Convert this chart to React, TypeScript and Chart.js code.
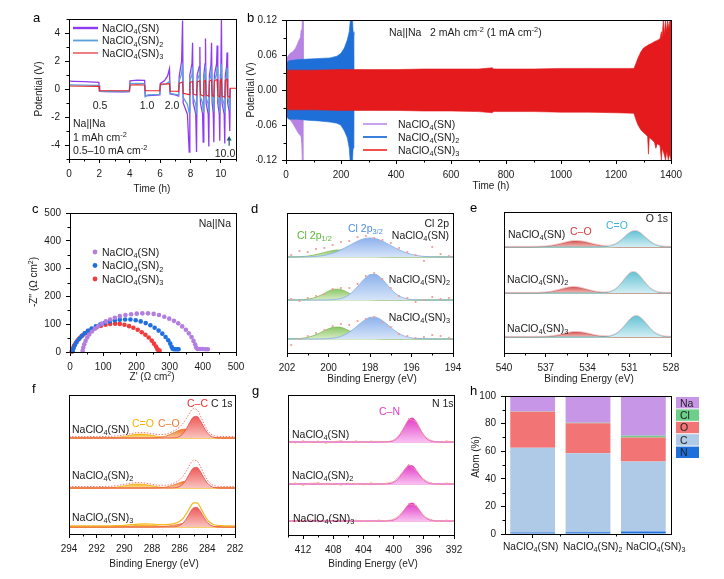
import { useEffect, useRef } from "react";
import { Chart, registerables } from "chart.js";

Chart.register(...registerables);

const PAGE_W = 724;
const PAGE_H = 579;
const FONT = "'Liberation Sans', Arial, Helvetica, sans-serif";
const INK = "#1a1a1a";
Chart.defaults.font.family = FONT;
Chart.defaults.color = INK;

// ---------- (a) rate capability, Na||Na ----------
const A_X_TICKS = [0, 2, 4, 6, 8, 10];
const A_X_MINOR = [1, 3, 5, 7, 9, 11];
const A_Y_TICKS = [-4, -2, 0, 2, 4];
const A_Y_MINOR = [-5, -3, -1, 1, 3, 5];
const A_SN = [
  [0, 0.56], [0.3, 0.55], [1.0, 0.52], [1.97, 0.48], [2.0, -0.17], [2.5, -0.19], [3.5, -0.2], [3.98, -0.19],
  [4.02, 0.58], [4.5, 0.64], [4.98, 0.62], [5.02, -0.48], [5.5, -0.45], [5.98, -0.42], [6.02, 0.4], [6.3, 0.6],
  [6.5, 0.95], [6.62, 1.45], [6.66, -0.35], [7.0, -0.42], [7.22, -0.5], [7.26, 0.9], [7.42, 2.0], [7.48, 4.9],
  [7.52, -1.0], [7.8, -1.8], [7.92, -4.5], [7.96, 1.0], [8.1, 1.8], [8.14, 3.3], [8.18, -1.0], [8.35, -1.8],
  [8.4, -4.5], [8.44, 1.0], [8.58, 1.6], [8.62, 3.0], [8.66, -1.0], [8.8, -1.8], [8.84, -3.8], [8.88, 1.0],
  [8.96, 1.8], [8.99, 3.6], [9.03, -1.0], [9.17, -1.8], [9.21, -4.1], [9.25, 1.0], [9.35, 1.7], [9.39, 3.3],
  [9.43, -1.0], [9.5, -1.7], [9.54, -3.8], [9.58, 1.0], [9.72, 1.8], [9.76, 3.1], [9.8, -1.0], [9.9, -1.8],
  [9.93, -3.7], [9.97, 1.0], [10.01, 2.0], [10.04, 5.0], [10.08, -1.0], [10.22, -1.8], [10.26, -3.9], [10.3, 1.0],
  [10.38, 1.6], [10.41, 2.6], [10.45, -1.0], [10.55, -1.6], [10.59, -3.0], [10.62, 0.05],
];
const A_SN2 = [
  [0, 0.3], [1.0, 0.28], [1.98, 0.26], [2.02, -0.16], [3.0, -0.18], [3.98, -0.18], [4.02, 0.38], [4.5, 0.4],
  [4.98, 0.38], [5.02, -0.55], [5.2, -0.42], [5.98, -0.38], [6.02, 0.3], [6.4, 0.35], [6.62, 0.55], [6.66, -0.32],
  [7.0, -0.38], [7.22, -0.42], [7.26, 0.6], [7.42, 1.1], [7.48, 1.8], [7.52, -0.6], [7.8, -1.1], [7.92, -1.7],
  [7.96, 0.6], [8.1, 1.0], [8.14, 1.6], [8.18, -0.6], [8.35, -1.1], [8.4, -1.8], [8.44, 0.6], [8.58, 1.0],
  [8.62, 1.5], [8.66, -0.6], [8.8, -1.0], [8.84, -1.6], [8.88, 0.6], [8.96, 1.1], [8.99, 1.7], [9.03, -0.6],
  [9.17, -1.1], [9.21, -1.7], [9.25, 0.6], [9.35, 1.0], [9.39, 1.6], [9.43, -0.6], [9.5, -1.0], [9.54, -1.6],
  [9.58, 0.6], [9.72, 1.1], [9.76, 1.6], [9.8, -0.6], [9.9, -1.1], [9.93, -1.7], [9.97, 0.6], [10.01, 1.1],
  [10.04, 1.8], [10.08, -0.6], [10.22, -1.1], [10.26, -1.7], [10.3, 0.6], [10.38, 1.0], [10.41, 1.5], [10.45, -0.6],
  [10.55, -1.0], [10.59, -1.5], [10.62, 0.05],
];
const A_SN3 = [
  [0, 0.21], [1.0, 0.2], [1.98, 0.19], [2.02, -0.12], [3.0, -0.12], [3.98, -0.12], [4.02, 0.29], [4.5, 0.3],
  [4.98, 0.29], [5.02, -0.12], [5.5, -0.12], [5.98, -0.12], [6.02, 0.36], [6.3, 0.36], [6.62, 0.38], [6.66, -0.15],
  [7.0, -0.16], [7.22, -0.17], [7.26, 0.4], [7.48, 0.5], [7.52, -0.3], [7.92, -0.4], [7.96, 0.45], [8.14, 0.55],
  [8.18, -0.35], [8.4, -0.45], [8.44, 0.5], [8.62, 0.6], [8.66, -0.4], [8.84, -0.5], [8.88, 0.55], [8.99, 0.62],
  [9.03, -0.42], [9.21, -0.52], [9.25, 0.55], [9.39, 0.65], [9.43, -0.45], [9.54, -0.55], [9.58, 0.6], [9.76, 0.68],
  [9.8, -0.45], [9.93, -0.58], [9.97, 0.6], [10.04, 0.7], [10.08, -0.5], [10.26, -0.6], [10.3, 0.62], [10.41, 0.7],
  [10.45, -0.5], [10.59, -0.6], [10.62, 0.05], [11, 0.05],
];

// ---------- (b) long-term cycling, voltage envelopes ----------
const B_X_TICKS = [0, 200, 400, 600, 800, 1000, 1200, 1400];
const B_X_MINOR = [100, 300, 500, 700, 900, 1100, 1300];
const B_Y_TICKS = [-0.12, -0.06, 0, 0.06, 0.12];
const B_Y_MINOR = [-0.09, -0.03, 0.03, 0.09];
const B_SN_UP = [[0, 0.04], [3, 0.055], [10, 0.06], [15, 0.063], [25, 0.066], [35, 0.072], [45, 0.083], [52, 0.09], [55, 0.103], [58, 0.105], [59, 0.12], [62, 0.12], [63, 0.06], [63.5, 0]];
const B_SN_LO = [[0, -0.04], [5, -0.045], [15, -0.051], [25, -0.058], [35, -0.066], [45, -0.074], [52, -0.078], [55, -0.08], [57, -0.09], [59, -0.12], [62, -0.12], [63, -0.06], [63.5, 0]];
const B_SN2_UP = [[0, 0.045], [10, 0.05], [40, 0.052], [80, 0.053], [120, 0.054], [160, 0.055], [185, 0.058], [200, 0.063], [212, 0.072], [223, 0.086], [230, 0.1], [234, 0.12], [242, 0.12], [244, 0.1], [247, 0.094], [247.5, 0]];
const B_SN2_LO = [[0, -0.045], [10, -0.05], [40, -0.05], [80, -0.052], [120, -0.053], [160, -0.055], [185, -0.057], [199, -0.06], [212, -0.07], [223, -0.082], [230, -0.1], [233, -0.12], [242, -0.12], [244, -0.1], [247, -0.091], [247.5, 0]];
const B_SN3_UP = [
  [0, 0.034], [100, 0.034], [200, 0.035], [300, 0.035], [400, 0.035], [500, 0.036], [600, 0.036], [700, 0.036],
  [750, 0.038], [755, 0.036], [800, 0.036], [900, 0.036], [1000, 0.037], [1100, 0.037], [1200, 0.037], [1265, 0.037],
  [1272, 0.045], [1280, 0.055], [1290, 0.065], [1300, 0.072], [1310, 0.075], [1320, 0.078], [1330, 0.08], [1340, 0.083],
  [1350, 0.085], [1360, 0.088], [1365, 0.1], [1368, 0.09], [1372, 0.12], [1376, 0.095], [1380, 0.12], [1384, 0.1],
  [1388, 0.12], [1392, 0.105], [1396, 0.12], [1400, 0.12],
];
const B_SN3_LO = [
  [0, -0.034], [100, -0.034], [200, -0.035], [300, -0.035], [400, -0.035], [500, -0.036], [600, -0.036], [700, -0.037],
  [750, -0.039], [755, -0.037], [800, -0.037], [900, -0.037], [1000, -0.038], [1100, -0.038], [1200, -0.039], [1265, -0.04],
  [1272, -0.05], [1280, -0.06], [1290, -0.068], [1300, -0.073], [1310, -0.077], [1315, -0.08], [1318, -0.11], [1321, -0.082],
  [1330, -0.085], [1340, -0.09], [1345, -0.1], [1350, -0.092], [1360, -0.095], [1365, -0.12], [1368, -0.1], [1375, -0.11],
  [1380, -0.12], [1385, -0.105], [1390, -0.12], [1395, -0.11], [1400, -0.12],
];

// ---------- (c) Nyquist plots ----------
const C_TICKS = [0, 100, 200, 300, 400, 500];
const C_MINOR = [50, 150, 250, 350, 450];
const C_SN = [
  [38, 4], [40, 16], [43, 28], [47, 40], [52, 52], [58, 63], [66, 74], [75, 84], [85, 93], [96, 102], [108, 110],
  [121, 117], [135, 123], [150, 129], [167, 133], [184, 136], [201, 138], [218, 139], [235, 139], [252, 137],
  [268, 133], [284, 127], [299, 120], [313, 112], [326, 103], [338, 92], [349, 80], [358, 67], [366, 54], [372, 40],
  [377, 27], [380, 16], [384, 11], [392, 11], [400, 11], [408, 10], [415, 10],
];
const C_SN2 = [
  [8, 3], [11, 14], [15, 25], [20, 36], [27, 47], [35, 57], [44, 67], [54, 76], [65, 84], [78, 92], [91, 99],
  [105, 105], [120, 110], [135, 114], [150, 116], [166, 117], [182, 117], [198, 114], [213, 110], [228, 104],
  [242, 96], [255, 87], [267, 77], [278, 66], [288, 54], [296, 42], [302, 30], [306, 19], [309, 12], [313, 10],
  [318, 10], [323, 10], [327, 10],
];
const C_SN3 = [
  [5, 2], [8, 12], [12, 22], [17, 32], [23, 42], [30, 51], [38, 60], [47, 68], [57, 76], [68, 83], [80, 89],
  [93, 94], [107, 98], [121, 101], [136, 102], [150, 101], [164, 98], [178, 93], [191, 87], [204, 80], [216, 71],
  [227, 62], [237, 52], [246, 41], [253, 30], [259, 20], [263, 11], [266, 6], [270, 5],
];

// ---------- (d) Cl 2p ----------
const D_GRID = [202, 201.5, 201, 200.5, 200.25, 200, 199.75, 199.5, 199.25, 199, 198.75, 198.5, 198.25, 198, 197.75, 197.5, 197.25, 197, 196.75, 196.5, 196, 195.5, 195, 194.5, 194];
const D_OFFSET = [96, 53, 14];
const D_P32_1 = [0, 0, 0.2, 0.8, 1.5, 2.6, 4.1, 6.2, 8.7, 11.5, 14.3, 16.8, 18.4, 19, 18.4, 16.8, 14.3, 11.5, 8.7, 6.2, 2.6, 0.8, 0.2, 0, 0];
const D_P12_1 = [0, 0.2, 0.9, 2.9, 4.2, 5.6, 6.6, 7, 6.6, 5.6, 4.2, 2.9, 1.7, 0.9, 0.5, 0.2, 0.1, 0, 0, 0, 0, 0, 0, 0, 0];
const D_P32_2 = [0, 0, 0, 0, 0, 0.1, 0.4, 1.0, 2.5, 5.4, 10.0, 15.8, 21.5, 25.3, 25.7, 22.5, 17.0, 11.1, 6.2, 3.0, 0.4, 0, 0, 0, 0];
const D_P12_2 = [0, 0.1, 0.7, 3.6, 6.1, 8.8, 10.7, 10.8, 9.3, 6.7, 4.0, 2.0, 0.9, 0.3, 0.1, 0, 0, 0, 0, 0, 0, 0, 0, 0, 0];
const D_P32_3 = [0, 0, 0, 0, 0.1, 0.4, 0.9, 2.0, 3.9, 6.8, 10.7, 15.1, 19.1, 21.6, 21.8, 19.7, 16.0, 11.6, 7.5, 4.3, 1.1, 0.2, 0, 0, 0];
const D_P12_3 = [0, 0.3, 1.6, 5.2, 7.8, 10.2, 11.7, 11.9, 10.6, 8.3, 5.7, 3.5, 1.9, 0.9, 0.4, 0.1, 0, 0, 0, 0, 0, 0, 0, 0, 0];
const D_RAW_GRID = [201.8, 201.4, 201.0, 200.6, 200.2, 199.8, 199.4, 199.0, 198.6, 198.2, 197.8, 197.4, 197.0, 196.6, 196.2, 195.8, 195.4, 195.0, 194.6, 194.2];
const D_RAW_1 = [2, 6, 5, 8, 9, 12, 15, 16, 20, 21, 19, 17, 14, 9, 5, 2, -4, 10, 3, 1];
const D_RAW_2 = [1, -1, 2, 4, 6, 11, 12, 12, 16, 24, 27, 21, 12, 4, 2, -2, 0, 3, 1, 2];
const D_RAW_3 = [-6, 0, 3, 6, 9, 13, 15, 14, 18, 20, 22, 17, 12, 5, 3, 1, 2, 4, 3, 1];

// ---------- (e) O 1s ----------
const E_GRID = [540, 539, 538, 537.5, 537, 536.5, 536, 535.5, 535, 534.5, 534, 533.5, 533, 532.5, 532, 531.75, 531.5, 531.25, 531, 530.75, 530.5, 530.25, 530, 529.75, 529.5, 529.25, 529, 528.5, 528];
const E_OFFSET = [106, 60, 16];
const E_CO_1 = [0, 0, 0, 0.2, 0.5, 1.4, 2.9, 4.7, 5.9, 5.7, 4.4, 2.6, 1.2, 0.4, 0.1, 0, 0, 0, 0, 0, 0, 0, 0, 0, 0, 0, 0, 0, 0];
const E_CEO_1 = [0, 0, 0, 0, 0, 0, 0, 0, 0, 0, 0, 0, 0.1, 0.7, 2.8, 5.0, 7.8, 11.0, 13.9, 15.7, 15.9, 14.4, 11.6, 8.4, 5.5, 3.2, 1.6, 0.3, 0];
const E_CO_2 = [0, 0, 0, 0.1, 0.5, 1.5, 3.2, 5.1, 6.0, 5.1, 3.2, 1.5, 0.5, 0.1, 0, 0, 0, 0, 0, 0, 0, 0, 0, 0, 0, 0, 0, 0, 0];
const E_CEO_2 = [0, 0, 0, 0, 0, 0, 0, 0, 0, 0, 0, 0, 0.1, 0.8, 3.7, 6.8, 10.9, 15.4, 19.2, 20.9, 20.2, 17.1, 12.7, 8.4, 4.8, 2.5, 1.1, 0.2, 0];
const E_CO_3 = [0, 0, 0, 0.1, 0.3, 0.8, 2.1, 3.7, 4.9, 4.7, 3.4, 1.8, 0.7, 0.2, 0, 0, 0, 0, 0, 0, 0, 0, 0, 0, 0, 0, 0, 0, 0];
const E_CEO_3 = [0, 0, 0, 0, 0, 0, 0, 0, 0, 0, 0, 0, 0.1, 0.6, 2.8, 5.2, 8.6, 12.7, 16.8, 19.9, 21, 19.9, 16.8, 12.7, 8.6, 5.2, 2.8, 0.6, 0.1];

// ---------- (f) C 1s ----------
const F_GRID = [294, 293, 292, 291, 290.5, 290, 289.5, 289, 288.5, 288, 287.5, 287, 286.5, 286, 285.75, 285.5, 285.25, 285, 284.75, 284.5, 284.25, 284, 283.75, 283.5, 283, 282.5, 282];
const F_OFFSET = [96, 46, 7];
const F_CC_1 = [0, 0, 0, 0, 0, 0, 0, 0, 0, 0, 0, 0, 0.1, 1.6, 4.4, 9.5, 16.0, 21.0, 21.6, 17.2, 10.7, 5.2, 2.0, 0.6, 0, 0, 0];
const F_CO_1 = [0, 0, 0, 0, 0, 0, 0, 0, 0, 0.1, 0.5, 1.9, 4.8, 7.9, 8.8, 8.9, 8.2, 6.8, 5.1, 3.5, 2.2, 1.2, 0.6, 0.3, 0, 0, 0];
const F_CEO_1 = [0, 0, 0, 0.2, 0.7, 1.6, 3.0, 3.9, 3.8, 2.7, 1.4, 0.5, 0.2, 0, 0, 0, 0, 0, 0, 0, 0, 0, 0, 0, 0, 0, 0];
const F_CC_2 = [0, 0, 0, 0, 0, 0, 0, 0, 0, 0, 0, 0, 0.1, 1.5, 4.2, 9.0, 15.2, 20.1, 20.6, 16.4, 10.2, 5.0, 1.9, 0.5, 0, 0, 0];
const F_CO_2 = [0, 0, 0, 0, 0, 0, 0, 0, 0, 0, 0.2, 0.9, 2.7, 5.3, 6.4, 6.9, 6.9, 6.2, 5.0, 3.7, 2.5, 1.5, 0.8, 0.4, 0.1, 0, 0];
const F_CEO_2 = [0, 0, 0, 0.3, 1.0, 2.2, 3.4, 4.0, 3.4, 2.2, 1.0, 0.3, 0.1, 0, 0, 0, 0, 0, 0, 0, 0, 0, 0, 0, 0, 0, 0];
const F_CC_3 = [0, 0, 0, 0, 0, 0, 0, 0, 0, 0, 0, 0, 0.1, 1.5, 4.0, 8.6, 14.5, 19.1, 19.6, 15.6, 9.7, 4.7, 1.8, 0.5, 0, 0, 0];
const F_CO_3 = [0, 0, 0, 0, 0, 0, 0, 0, 0, 0, 0.2, 0.7, 1.6, 3.0, 3.5, 3.9, 4.0, 3.8, 3.3, 2.7, 2.0, 1.4, 0.9, 0.5, 0.2, 0, 0];
const F_CEO_3 = [0, 0, 0, 0, 0.2, 0.5, 1.1, 1.7, 2.0, 1.7, 1.1, 0.5, 0.2, 0, 0, 0, 0, 0, 0, 0, 0, 0, 0, 0, 0, 0, 0];

// ---------- (g) N 1s ----------
const G_GRID = [414, 412, 410, 408, 406, 404, 402, 401, 400.5, 400, 399.5, 399, 398.5, 398, 397.5, 397, 396.5, 396, 395.5, 395, 394, 393, 392];
const G_OFFSET = [93, 51, 14];
const G_CN_1 = [0, 0, 0, 0, 0, 0, 0, 0.1, 0.4, 1.3, 3.9, 9.0, 16.0, 22.2, 23.9, 20.0, 13.1, 6.7, 2.6, 0.8, 0, 0, 0];
const G_CN_2 = [0, 0, 0, 0, 0, 0, 0, 0.1, 0.5, 1.7, 4.5, 9.3, 14.9, 18.6, 18.2, 13.8, 8.2, 3.8, 1.3, 0.4, 0, 0, 0];
const G_CN_3 = [0, 0, 0, 0, 0, 0, 0, 0.1, 0.3, 1.0, 2.9, 6.8, 12.0, 16.7, 17.9, 15.0, 9.8, 5.0, 2.0, 0.6, 0, 0, 0];
const G_RAW_GRID = [414, 413, 412, 411, 410, 409, 408, 407, 406, 405, 404, 403, 402, 401, 400, 399, 398, 397, 396, 395, 394, 393, 392];
const G_RAW_1 = [0.5, -0.8, 1.0, -0.5, 0.8, -1.0, 0.3, 1.2, -0.6, 0.9, -0.4, 0.7, 0.5, -0.2, 1.8, 9.6, 23.2, 20.5, 6.2, 1.5, -0.6, 0.9, 0.2];
const G_RAW_2 = [-0.5, 0.8, -1.0, 0.6, 1.1, -0.4, 0.5, -0.9, 0.7, 0.2, -0.6, 0.9, -0.3, 0.6, 2.3, 9.8, 19.2, 13.5, 4.3, 0.9, -0.5, 0.8, 0.3];
const G_RAW_3 = [0.7, -0.6, 0.4, 1.0, -0.8, 0.5, -0.3, 0.9, -0.7, 0.6, 0.2, -0.5, 0.8, 0.3, 1.6, 7.2, 17.2, 15.4, 4.6, 1.1, -0.4, 0.7, -0.2];

// ---------- (h) surface composition ----------
const H_SAMPLES = ["NaClO_4(SN)", "NaClO_4(SN)_2", "NaClO_4(SN)_3"];
const H_N = [1.0, 1.2, 1.8];
const H_C = [61.5, 57.3, 50.7];
const H_O = [26.0, 21.7, 17.5];
const H_CL = [0.2, 0.5, 1.2];
const H_NA = [11.3, 19.3, 28.8];
const H_Y_TICKS = [0, 20, 40, 60, 80, 100];
const H_Y_MINOR = [10, 30, 50, 70, 90];

const SERIES = ["NaClO_4(SN)", "NaClO_4(SN)_2", "NaClO_4(SN)_3"];

// ---------- helpers ----------
type Box = { l: number; t: number; r: number; b: number };
const Y_AXIS_W = 30;
const X_AXIS_H = 22;

function baseOptions(box: Box) {
  return {
    responsive: false,
    maintainAspectRatio: false,
    animation: false,
    devicePixelRatio: 1,
    events: [],
    layout: {
      padding: { left: box.l - Y_AXIS_W, top: box.t, right: PAGE_W - box.r, bottom: PAGE_H - box.b - X_AXIS_H },
    },
    plugins: { legend: { display: false }, tooltip: { enabled: false } },
  };
}

function axis(o: any) {
  const horizontal = o.horizontal;
  return {
    type: "linear",
    min: o.min,
    max: o.max,
    reverse: !!o.reverse,
    afterBuildTicks: (s: any) => {
      s.ticks = o.ticks.map((v: number) => ({ value: v }));
    },
    afterFit: (s: any) => {
      if (horizontal) s.height = X_AXIS_H;
      else s.width = Y_AXIS_W;
    },
    grid: {
      display: true,
      drawOnChartArea: false,
      drawTicks: o.marks !== false,
      tickLength: 4,
      tickWidth: 1,
      tickColor: "#000",
      color: "#000",
    },
    border: { display: true, color: "#000", width: 1 },
    ticks: {
      display: o.labels !== false,
      autoSkip: false,
      maxRotation: 0,
      minRotation: 0,
      padding: 5,
      color: INK,
      font: { family: FONT, size: 10 },
      callback: (v: any) => (o.fmt ? o.fmt(Number(v)) : String(v)),
    },
  };
}

function parseRich(s: string) {
  const out: { t: string; k: number }[] = [];
  let buf = "";
  let i = 0;
  while (i < s.length) {
    const ch = s[i];
    if ((ch === "_" || ch === "^") && i + 1 < s.length) {
      if (buf) {
        out.push({ t: buf, k: 0 });
        buf = "";
      }
      let txt = "";
      if (s[i + 1] === "{") {
        const e = s.indexOf("}", i + 1);
        txt = s.slice(i + 2, e);
        i = e + 1;
      } else {
        txt = s[i + 1];
        i += 2;
      }
      out.push({ t: txt, k: ch === "_" ? 1 : 2 });
    } else {
      buf += ch;
      i++;
    }
  }
  if (buf) out.push({ t: buf, k: 0 });
  return out;
}

// Text with _sub and ^{sup} runs, vertically centred on y.
function richText(ctx: CanvasRenderingContext2D, s: string, x: number, y: number, o: any = {}) {
  const size = o.size ?? 10.5;
  const small = size * 0.7;
  const segs = parseRich(s);
  ctx.save();
  ctx.translate(x, y);
  if (o.rotate) ctx.rotate(-Math.PI / 2);
  ctx.fillStyle = o.color ?? INK;
  ctx.textBaseline = "alphabetic";
  ctx.textAlign = "left";
  const widths = segs.map((sg) => {
    ctx.font = `${sg.k ? small : size}px ${FONT}`;
    return ctx.measureText(sg.t).width;
  });
  const total = widths.reduce((a, b) => a + b, 0);
  let cx = o.align === "center" ? -total / 2 : o.align === "right" ? -total : 0;
  const base = size * 0.36;
  segs.forEach((sg, i) => {
    ctx.font = `${sg.k ? small : size}px ${FONT}`;
    const dy = sg.k === 1 ? size * 0.25 : sg.k === 2 ? -size * 0.4 : 0;
    ctx.fillText(sg.t, cx, base + dy);
    cx += widths[i];
  });
  ctx.restore();
}

function panelLetter(ctx: CanvasRenderingContext2D, s: string, x: number, y: number) {
  richText(ctx, s, x, y, { size: 13, color: "#000" });
}

function strokeFrame(c: any, ctx: CanvasRenderingContext2D) {
  const a = c.chartArea;
  ctx.strokeStyle = "#000";
  ctx.lineWidth = 1;
  const l = Math.round(a.left), t = Math.round(a.top), r = Math.round(a.right), b = Math.round(a.bottom);
  ctx.strokeRect(l + 0.5, t + 0.5, r - l, b - t);
}

function minorTicks(c: any, ctx: CanvasRenderingContext2D, id: string, vals: number[], len = 2.5) {
  const s = c.scales[id];
  const a = c.chartArea;
  ctx.strokeStyle = "#000";
  ctx.lineWidth = 1;
  ctx.beginPath();
  vals.forEach((v) => {
    const p = Math.round(s.getPixelForValue(v)) + 0.5;
    if (id === "x") {
      ctx.moveTo(p, a.bottom);
      ctx.lineTo(p, a.bottom + len);
    } else {
      ctx.moveTo(a.left, p);
      ctx.lineTo(a.left - len, p);
    }
  });
  ctx.stroke();
}

function decor(id: string, draw: (c: any, ctx: CanvasRenderingContext2D) => void) {
  return {
    id,
    afterDraw(c: any) {
      const ctx = c.ctx;
      ctx.save();
      draw(c, ctx);
      ctx.restore();
    },
  };
}

const pairs = (pts: number[][]) => pts.map(([x, y]) => ({ x, y }));

type Shade = { top: string; bot: string; line: string };
function shadeFill(off: number, peak: number, s: Shade) {
  return (ctx: any) => {
    const chart = ctx.chart;
    const ys = chart.scales && chart.scales.y;
    if (!chart.chartArea || !ys) return s.bot;
    const y0 = ys.getPixelForValue(off + peak);
    const y1 = ys.getPixelForValue(off);
    const g = chart.ctx.createLinearGradient(0, y0, 0, Math.max(y1, y0 + 1));
    g.addColorStop(0, s.top);
    g.addColorStop(1, s.bot);
    return g;
  };
}
function peakSet(grid: number[], vals: number[], off: number, s: Shade) {
  const peak = Math.max(...vals);
  return {
    data: grid.map((x, i) => ({ x, y: off + vals[i] })),
    fill: { value: off },
    backgroundColor: shadeFill(off, peak, s),
    borderColor: s.line,
    borderWidth: 0.8,
    pointRadius: 0,
    cubicInterpolationMode: "monotone",
  };
}
function traceSet(grid: number[], vals: number[], off: number, color: string, width: number, dash: number[] = [], dots = 0, smooth = true) {
  return {
    data: grid.map((x, i) => ({ x, y: off + vals[i] })),
    fill: false,
    borderColor: color,
    backgroundColor: color,
    borderWidth: width,
    borderDash: dash,
    pointRadius: dots,
    pointBorderWidth: 0,
    pointBackgroundColor: color,
    cubicInterpolationMode: smooth ? "monotone" : "default",
  };
}
function dotSet(grid: number[], vals: number[], off: number, color: string, r: number) {
  return {
    data: grid.map((x, i) => ({ x, y: off + vals[i] })),
    showLine: false,
    fill: false,
    pointRadius: r,
    pointBorderWidth: 0,
    pointBackgroundColor: color,
    borderColor: color,
  };
}
function baseSet(grid: number[], off: number, color: string) {
  return {
    data: [{ x: grid[0], y: off }, { x: grid[grid.length - 1], y: off }],
    fill: false,
    borderColor: color,
    borderWidth: 0.8,
    pointRadius: 0,
  };
}
const sumOf = (...arrs: number[][]) => arrs[0].map((_, i) => arrs.reduce((s, a) => s + a[i], 0));

function xpsChart(id: string, box: Box, lo: number, hi: number, ticks: number[], minor: number[], yMax: number, datasets: any[], draw: (c: any, ctx: CanvasRenderingContext2D) => void) {
  return {
    type: "line",
    data: { datasets },
    options: {
      ...baseOptions(box),
      scales: {
        x: axis({ min: lo, max: hi, reverse: true, ticks, horizontal: true }),
        y: axis({ min: 0, max: yMax, ticks: [], horizontal: false, labels: false, marks: false }),
      },
    },
    plugins: [
      decor(id, (c, ctx) => {
        strokeFrame(c, ctx);
        minorTicks(c, ctx, "x", minor);
        draw(c, ctx);
      }),
    ],
  };
}

// ---------- panels ----------
function chartA() {
  const box = { l: 69, t: 19, r: 236, b: 159 };
  const PURPLE = "#8E3CF0", BLUE = "#5BA0DA", RED = "#E8262A";
  const ln = (pts: number[][], color: string, w: number) => ({ data: pairs(pts), borderColor: color, borderWidth: w, pointRadius: 0, fill: false });
  const legend = [
    { label: SERIES[0], color: PURPLE, w: 2.4 },
    { label: SERIES[1], color: BLUE, w: 1.8 },
    { label: SERIES[2], color: RED, w: 1.2 },
  ];
  return {
    type: "line",
    data: { datasets: [ln(A_SN3, RED, 1.1), ln(A_SN2, BLUE, 1.3), ln(A_SN, PURPLE, 1.3)] },
    options: {
      ...baseOptions(box),
      scales: {
        x: axis({ min: 0, max: 11, ticks: A_X_TICKS, horizontal: true }),
        y: axis({ min: -5, max: 5, ticks: A_Y_TICKS, horizontal: false }),
      },
    },
    plugins: [
      decor("decorA", (c, ctx) => {
        strokeFrame(c, ctx);
        minorTicks(c, ctx, "x", A_X_MINOR);
        minorTicks(c, ctx, "y", A_Y_MINOR);
        legend.forEach((it, i) => {
          const y = 28 + i * 12.5;
          ctx.strokeStyle = it.color;
          ctx.lineWidth = it.w;
          ctx.beginPath();
          ctx.moveTo(73, y);
          ctx.lineTo(98, y);
          ctx.stroke();
          richText(ctx, it.label, 102, y);
        });
        richText(ctx, "0.5", 100, 105, { align: "center" });
        richText(ctx, "1.0", 147, 105, { align: "center" });
        richText(ctx, "2.0", 172, 105, { align: "center" });
        richText(ctx, "Na||Na", 73, 123);
        richText(ctx, "1 mAh cm^{-2}", 73, 137);
        richText(ctx, "0.5\u201310 mA cm^{-2}", 73, 150);
        richText(ctx, "10.0", 225, 153, { align: "center" });
        const xs = c.scales.x, ys = c.scales.y;
        const ax = xs.getPixelForValue(10.55);
        const yTail = ys.getPixelForValue(-4.05), yHead = ys.getPixelForValue(-3.35);
        ctx.strokeStyle = "#1E5C6C";
        ctx.fillStyle = "#1E5C6C";
        ctx.lineWidth = 1.2;
        ctx.beginPath();
        ctx.moveTo(ax, yTail);
        ctx.lineTo(ax, yHead + 3);
        ctx.stroke();
        ctx.beginPath();
        ctx.moveTo(ax, yHead);
        ctx.lineTo(ax - 2.5, yHead + 4.5);
        ctx.lineTo(ax + 2.5, yHead + 4.5);
        ctx.closePath();
        ctx.fill();
        richText(ctx, "Potential (V)", 38, 89, { align: "center", rotate: true, size: 10 });
        richText(ctx, "Time (h)", 152, 188, { align: "center", size: 10 });
        panelLetter(ctx, "a", 33, 17);
      }),
    ],
  };
}

function chartB() {
  const box = { l: 286, t: 20, r: 671, b: 160 };
  const PURPLE = "#B784E4", BLUE = "#1F6FD8", RED = "#E41A1C";
  const band = (pts: number[][], color: string) => ({
    data: pairs(pts),
    fill: "origin",
    backgroundColor: color,
    borderColor: color,
    borderWidth: 0.6,
    pointRadius: 0,
  });
  const legend = [
    { label: SERIES[0], color: "#C8A2EA" },
    { label: SERIES[1], color: "#3A80DC" },
    { label: SERIES[2], color: "#F05050" },
  ];
  return {
    type: "line",
    data: {
      datasets: [
        band(B_SN3_UP, RED), band(B_SN3_LO, RED),
        band(B_SN2_UP, BLUE), band(B_SN2_LO, BLUE),
        band(B_SN_UP, PURPLE), band(B_SN_LO, PURPLE),
      ],
    },
    options: {
      ...baseOptions(box),
      scales: {
        x: axis({ min: 0, max: 1400, ticks: B_X_TICKS, horizontal: true }),
        y: axis({ min: -0.12, max: 0.12, ticks: B_Y_TICKS, horizontal: false, fmt: (v: number) => v.toFixed(2) }),
      },
    },
    plugins: [
      decor("decorB", (c, ctx) => {
        strokeFrame(c, ctx);
        minorTicks(c, ctx, "x", B_X_MINOR);
        minorTicks(c, ctx, "y", B_Y_MINOR);
        richText(ctx, "Na||Na", 389, 32);
        richText(ctx, "2 mAh cm^{-2} (1 mA cm^{-2})", 430, 32);
        legend.forEach((it, i) => {
          const y = 124 + i * 13;
          ctx.strokeStyle = it.color;
          ctx.lineWidth = 2;
          ctx.beginPath();
          ctx.moveTo(363, y);
          ctx.lineTo(387, y);
          ctx.stroke();
          richText(ctx, it.label, 398, y);
        });
        richText(ctx, "Potential (V)", 250, 90, { align: "center", rotate: true, size: 10 });
        richText(ctx, "Time (h)", 491, 185, { align: "center", size: 10 });
        panelLetter(ctx, "b", 247, 17);
      }),
    ],
  };
}

function chartC() {
  const box = { l: 70, t: 213, r: 236, b: 352 };
  const cols = ["#B27EE0", "#1F6FE0", "#F03C3C"];
  const pts = (d: number[][], color: string) => ({
    data: pairs(d),
    showLine: false,
    pointRadius: 2.3,
    pointBorderWidth: 0,
    pointBackgroundColor: color,
    borderColor: color,
    clip: false,
  });
  return {
    type: "scatter",
    data: { datasets: [pts(C_SN, cols[0]), pts(C_SN2, cols[1]), pts(C_SN3, cols[2])] },
    options: {
      ...baseOptions(box),
      scales: {
        x: axis({ min: 0, max: 500, ticks: C_TICKS, horizontal: true }),
        y: axis({ min: 0, max: 500, ticks: C_TICKS, horizontal: false }),
      },
    },
    plugins: [
      decor("decorC", (c, ctx) => {
        strokeFrame(c, ctx);
        minorTicks(c, ctx, "x", C_MINOR);
        minorTicks(c, ctx, "y", C_MINOR);
        richText(ctx, "Na||Na", 231, 223, { align: "right" });
        SERIES.forEach((s, i) => {
          const y = 252 + i * 13.5;
          ctx.fillStyle = cols[i];
          ctx.beginPath();
          ctx.arc(95, y, 2.4, 0, Math.PI * 2);
          ctx.fill();
          richText(ctx, s, 102, y);
        });
        richText(ctx, "-Z'' (\u03A9 cm^2)", 33, 282, { align: "center", rotate: true, size: 10 });
        richText(ctx, "Z' (\u03A9 cm^2)", 152, 376, { align: "center", size: 10 });
        panelLetter(ctx, "c", 32, 208);
      }),
    ],
  };
}

function chartD() {
  const blue: Shade = { top: "#8DB2EC", bot: "#D6E4F8", line: "#84ACE6" };
  const green: Shade = { top: "#8CC766", bot: "#D8ECC6", line: "#7DB859" };
  const ds: any[] = [];
  [D_RAW_1, D_RAW_2, D_RAW_3].forEach((v, i) => ds.push(dotSet(D_RAW_GRID, v, D_OFFSET[i], "#F29A94", 1.1)));
  [D_P32_1, D_P32_2, D_P32_3].forEach((v, i) => ds.push(peakSet(D_GRID, v, D_OFFSET[i], blue)));
  [D_P12_1, D_P12_2, D_P12_3].forEach((v, i) => ds.push(peakSet(D_GRID, v, D_OFFSET[i], green)));
  D_OFFSET.forEach((o) => ds.push(baseSet(D_GRID, o, "#97C47A")));
  return xpsChart("decorD", { l: 287, t: 213, r: 453, b: 353 }, 194, 202, [202, 200, 198, 196, 194], [201, 199, 197, 195], 140, ds, (c, ctx) => {
    richText(ctx, "Cl 2p", 449, 223, { align: "right" });
    richText(ctx, SERIES[0], 449, 235, { align: "right" });
    richText(ctx, "Cl 2p_{1/2}", 297, 235, { color: "#5CB83A" });
    richText(ctx, "Cl 2p_{3/2}", 348, 228, { color: "#4D8FE0" });
    richText(ctx, SERIES[1], 450, 279, { align: "right" });
    richText(ctx, SERIES[2], 450, 317, { align: "right" });
    richText(ctx, "Binding Energy (eV)", 372, 378, { align: "center", size: 10 });
    panelLetter(ctx, "d", 251, 208);
  });
}

function chartE() {
  const cyan: Shade = { top: "#66C3D5", bot: "#D2EEF3", line: "#5AB7CA" };
  const red: Shade = { top: "#D45A5A", bot: "#F2BDB6", line: "#C85050" };
  const ds: any[] = [];
  const co = [E_CO_1, E_CO_2, E_CO_3];
  const ceo = [E_CEO_1, E_CEO_2, E_CEO_3];
  E_OFFSET.forEach((o, i) => ds.push(traceSet(E_GRID, sumOf(co[i], ceo[i]), o + 0.6, "#F1C2C2", 0.8)));
  ceo.forEach((v, i) => ds.push(peakSet(E_GRID, v, E_OFFSET[i], cyan)));
  co.forEach((v, i) => ds.push(peakSet(E_GRID, v, E_OFFSET[i], red)));
  E_OFFSET.forEach((o) => ds.push(baseSet(E_GRID, o, "#6E9A5A")));
  return xpsChart("decorE", { l: 504, t: 212, r: 671, b: 353 }, 528, 540, [540, 537, 534, 531, 528], [538.5, 535.5, 532.5, 529.5], 141, ds, (c, ctx) => {
    richText(ctx, "O 1s", 668, 218, { align: "right" });
    richText(ctx, SERIES[0], 508, 234);
    richText(ctx, "C\u2013O", 570, 231, { color: "#D63C3C" });
    richText(ctx, "C=O", 606, 225, { color: "#3DB4CC" });
    richText(ctx, SERIES[1], 507, 279);
    richText(ctx, SERIES[2], 507, 328);
    richText(ctx, "Binding Energy (eV)", 589, 378, { align: "center", size: 10 });
    panelLetter(ctx, "e", 470, 207);
  });
}

function chartF() {
  const cc: Shade = { top: "#EE5858", bot: "#F9C4BE", line: "#E84545" };
  const coS: Shade = { top: "#F0782A", bot: "#F9CBA4", line: "#EE7426" };
  const ceoS: Shade = { top: "#F5B81E", bot: "#FBE3A6", line: "#F2AE10" };
  const ccs = [F_CC_1, F_CC_2, F_CC_3];
  const cos = [F_CO_1, F_CO_2, F_CO_3];
  const ceos = [F_CEO_1, F_CEO_2, F_CEO_3];
  const ds: any[] = [];
  F_OFFSET.forEach((o, i) => {
    const env = sumOf(ccs[i], cos[i], ceos[i]);
    if (i < 2) ds.push(traceSet(F_GRID, env, o + 1.5, "#F07878", 1, [1.5, 1.5]));
    else ds.push(traceSet(F_GRID, env, o + 1.2, "#F5B820", 1.2));
  });
  ccs.forEach((v, i) => ds.push(peakSet(F_GRID, v, F_OFFSET[i], cc)));
  cos.forEach((v, i) => ds.push(peakSet(F_GRID, v, F_OFFSET[i], coS)));
  ceos.forEach((v, i) => ds.push(peakSet(F_GRID, v, F_OFFSET[i], ceoS)));
  F_OFFSET.forEach((o) => ds.push(baseSet(F_GRID, o, "#F5B820")));
  return xpsChart("decorF", { l: 69, t: 395, r: 235, b: 534 }, 282, 294, [294, 292, 290, 288, 286, 284, 282], [293, 291, 289, 287, 285, 283], 139, ds, (c, ctx) => {
    richText(ctx, "C\u2013C", 187, 403, { color: "#E8322E" });
    richText(ctx, "C 1s", 211, 403);
    richText(ctx, SERIES[0], 72, 429);
    richText(ctx, "C=O", 132, 423, { color: "#F5B400" });
    richText(ctx, "C\u2013O", 158, 423, { color: "#F07A30" });
    richText(ctx, SERIES[1], 72, 475);
    richText(ctx, SERIES[2], 72, 517);
    richText(ctx, "Binding Energy (eV)", 154, 563, { align: "center", size: 10 });
    panelLetter(ctx, "f", 32, 388);
  });
}

function chartG() {
  const mag: Shade = { top: "#E23DC8", bot: "#F9C0F0", line: "#DE38C4" };
  const ds: any[] = [];
  [G_RAW_1, G_RAW_2, G_RAW_3].forEach((v, i) => ds.push(traceSet(G_RAW_GRID, v, G_OFFSET[i], "#F3A497", 0.7, [], 0.8, false)));
  [G_CN_1, G_CN_2, G_CN_3].forEach((v, i) => ds.push(peakSet(G_GRID, v, G_OFFSET[i], mag)));
  G_OFFSET.forEach((o) => ds.push(baseSet(G_GRID, o, "#E452CC")));
  return xpsChart("decorG", { l: 288, t: 395, r: 454, b: 535 }, 392, 414, [412, 408, 404, 400, 396, 392], [414, 410, 406, 402, 398, 394], 140, ds, (c, ctx) => {
    richText(ctx, "N 1s", 432, 403);
    richText(ctx, "C\u2013N", 379, 411, { color: "#E03CC4" });
    richText(ctx, SERIES[0], 292, 434);
    richText(ctx, SERIES[1], 292, 475);
    richText(ctx, SERIES[2], 293, 518);
    richText(ctx, "Binding Energy (eV)", 373, 563, { align: "center", size: 10 });
    panelLetter(ctx, "g", 252, 390);
  });
}

function chartH() {
  const box = { l: 505, t: 396, r: 671, b: 534 };
  const COL = { N: "#1D6FDB", C: "#AFCAE6", O: "#F27474", Cl: "#6CCF8A", Na: "#C896E6" };
  const bar = (label: string, data: number[], color: string) => ({ label, data, backgroundColor: color, borderWidth: 0 });
  const yAxis: any = axis({ min: 0, max: 100, ticks: H_Y_TICKS, horizontal: false });
  yAxis.stacked = true;
  const legend = [
    { k: "Na", c: COL.Na },
    { k: "Cl", c: COL.Cl },
    { k: "O", c: COL.O },
    { k: "C", c: COL.C },
    { k: "N", c: COL.N },
  ];
  // category labels are wider than a category, so they run left to right from the first bar
  const labelLeft = [503, 563, 626];
  return {
    type: "bar",
    data: {
      labels: H_SAMPLES,
      datasets: [bar("N", H_N, COL.N), bar("C", H_C, COL.C), bar("O", H_O, COL.O), bar("Cl", H_CL, COL.Cl), bar("Na", H_NA, COL.Na)],
    },
    options: {
      ...baseOptions(box),
      datasets: { bar: { categoryPercentage: 1, barPercentage: 0.81 } },
      scales: {
        x: {
          type: "category",
          stacked: true,
          offset: true,
          afterFit: (s: any) => {
            s.height = X_AXIS_H;
          },
          grid: { display: true, offset: false, drawOnChartArea: false, drawTicks: true, tickLength: 4, tickColor: "#000", color: "#000" },
          border: { display: true, color: "#000", width: 1 },
          ticks: { display: false },
        },
        y: yAxis,
      },
    },
    plugins: [
      decor("decorH", (c, ctx) => {
        strokeFrame(c, ctx);
        minorTicks(c, ctx, "y", H_Y_MINOR);
        minorTicks(c, ctx, "x", [0.5, 1.5]);
        H_SAMPLES.forEach((s, i) => richText(ctx, s, labelLeft[i], 546, { size: 10.2 }));
        legend.forEach((it, i) => {
          const top = 397 + i * 12.4;
          ctx.fillStyle = it.c;
          ctx.fillRect(676, top, 23, 11.4);
          richText(ctx, it.k, 680, top + 5.9, { color: "#222" });
        });
        richText(ctx, "Atom (%)", 475, 457, { align: "center", rotate: true, size: 10 });
        panelLetter(ctx, "h", 470, 390);
      }),
    ],
  };
}

export default function App() {
  const refs = useRef<(HTMLCanvasElement | null)[]>([]);
  useEffect(() => {
    document.body.style.margin = "0";
    const configs: any[] = [chartA(), chartB(), chartC(), chartD(), chartE(), chartF(), chartG(), chartH()];
    const charts = configs.map((cfg, i) => new Chart(refs.current[i] as HTMLCanvasElement, cfg));
    return () => charts.forEach((ch) => ch.destroy());
  }, []);
  return (
    <div style={{ position: "absolute", left: 0, top: 0, width: PAGE_W, height: PAGE_H, background: "#fff", overflow: "hidden" }}>
      {Array.from({ length: 8 }).map((_, i) => (
        <canvas
          key={i}
          ref={(el) => {
            refs.current[i] = el;
          }}
          width={PAGE_W}
          height={PAGE_H}
          style={{ position: "absolute", left: 0, top: 0, width: PAGE_W, height: PAGE_H }}
        />
      ))}
    </div>
  );
}
